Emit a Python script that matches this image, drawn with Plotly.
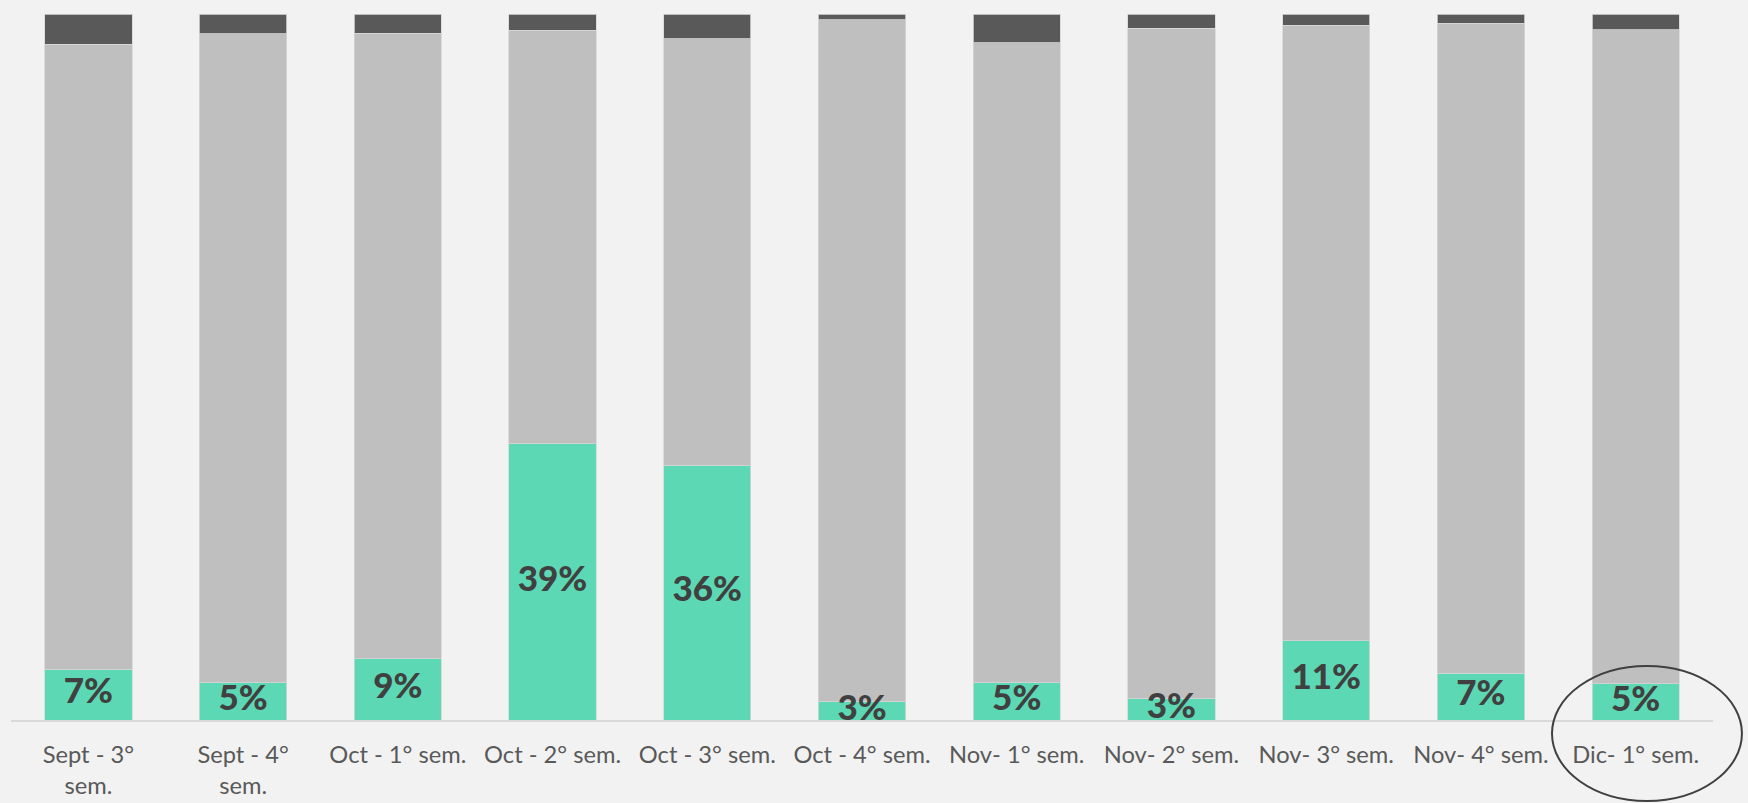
import plotly.graph_objects as go

categories = ["Sept - 3° sem.", "Sept - 4° sem.", "Oct - 1° sem.", "Oct - 2° sem.",
              "Oct - 3° sem.", "Oct - 4° sem.", "Nov- 1° sem.", "Nov- 2° sem.",
              "Nov- 3° sem.", "Nov- 4° sem.", "Dic- 1° sem."]
tick_labels = ["Sept - 3°<br>sem.", "Sept - 4°<br>sem.", "Oct - 1° sem.", "Oct - 2° sem.",
               "Oct - 3° sem.", "Oct - 4° sem.", "Nov- 1° sem.", "Nov- 2° sem.",
               "Nov- 3° sem.", "Nov- 4° sem.", "Dic- 1° sem."]
green_vals = [7.2, 5.3, 8.7, 39.1, 36.1, 2.6, 5.3, 3.05, 11.2, 6.6, 5.1]
gray_vals = [88.5, 91.9, 88.6, 58.6, 60.4, 96.6, 90.6, 94.95, 87.2, 92.1, 92.7]
dark_vals = [4.3, 2.8, 2.7, 2.3, 3.5, 0.8, 4.1, 2.0, 1.6, 1.3, 2.2]

GREEN = "#5cd9b4"
GRAY = "#bfbfbf"
DARK = "#595959"
BG = "#f2f2f2"

fig = go.Figure()
for vals, col in [(green_vals, GREEN), (gray_vals, GRAY), (dark_vals, DARK)]:
    fig.add_trace(go.Bar(
        x=categories, y=vals,
        marker=dict(color=col, line=dict(color="#d6d6d6", width=0.8)),
        showlegend=False, hoverinfo="skip",
    ))

fig.add_trace(go.Scatter(
    x=categories, y=[v / 2 for v in green_vals],
    mode="text",
    text=[f"{round(v)}%" for v in green_vals],
    textfont=dict(family="Lato", size=35, color="#404040", weight=900),
    showlegend=False, hoverinfo="skip", cliponaxis=False,
))

fig.update_layout(
    width=1748, height=803,
    barmode="stack", bargap=0.436,
    paper_bgcolor=BG, plot_bgcolor=BG,
    margin=dict(l=11, r=35, t=14, b=83, autoexpand=False),
    font=dict(family="Lato"),
    xaxis=dict(
        tickmode="array", tickvals=categories, ticktext=tick_labels,
        tickfont=dict(family="Lato", size=23.7, color="#595959"),
        showline=True, linecolor="#d9d9d9", linewidth=2,
        showgrid=False, ticks="", zeroline=False, ticklabelstandoff=13,
        automargin=False, range=[-0.5, len(categories) - 0.5],
    ),
    yaxis=dict(range=[0, 100], visible=False, showgrid=False, zeroline=False,
               automargin=False),
    shapes=[dict(
        type="circle", xref="paper", yref="paper",
        x0=0.9054, x1=1.0170, y0=-0.1147, y1=0.0765,
        line=dict(color="#404040", width=2), fillcolor="rgba(0,0,0,0)",
        layer="above",
    )],
)

fig.write_html(
    "out.html",
    config={"displayModeBar": False},
    post_script="document.body.style.margin='0';document.body.style.background='#f2f2f2';",
)
